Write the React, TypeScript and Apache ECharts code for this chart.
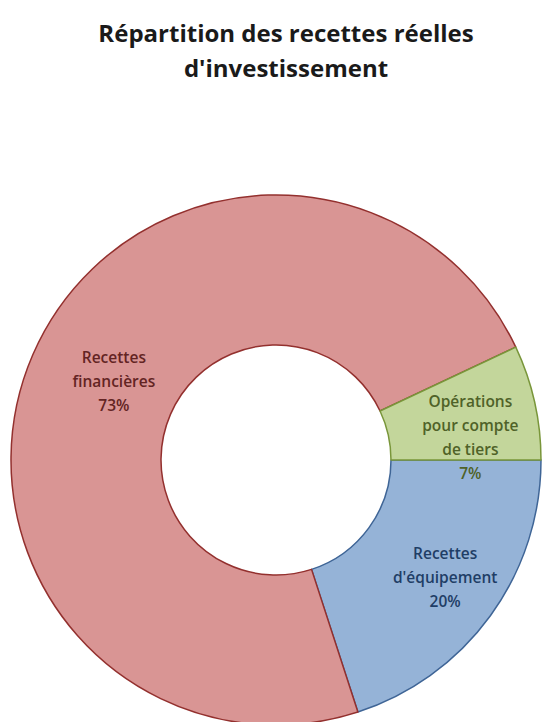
import React, { useEffect, useRef } from "react";
import * as echarts from "echarts";

const titleLines = ["Répartition des recettes réelles", "d'investissement"];
const categories = ["Recettes\nd'équipement", "Recettes\nfinancières", "Opérations\npour compte\nde tiers"];
const values = [20, 73, 7];
const fillColors = ["#95B3D7", "#D99594", "#C3D69B"];
const borderColors = ["#3F6596", "#93302E", "#79963A"];
const labelColors = ["#1F3E66", "#632423", "#4F6228"];
const labelShift = [
  [13, 4],
  [15, -2],
  [6, 19],
];

export default function App() {
  const ref = useRef<HTMLDivElement>(null);
  useEffect(() => {
    document.body.style.margin = "0";
    const chart = echarts.init(ref.current!, null, { renderer: "svg" });
    chart.setOption({
      animation: false,
      backgroundColor: "#ffffff",
      title: {
        text: titleLines.join("\n"),
        left: 281,
        top: 10,
        textAlign: "center",
        textStyle: {
          fontFamily: "Open Sans",
          fontWeight: "bold",
          fontSize: 24,
          lineHeight: 35,
          color: "#1a1a1a",
        },
      },
      series: [
        {
          type: "pie",
          center: [276, 460],
          radius: [115, 265],
          startAngle: 0,
          clockwise: true,
          avoidLabelOverlap: false,
          label: {
            show: true,
            position: "inside",
            fontFamily: "Open Sans",
            fontWeight: 600,
            fontSize: 15.5,
            lineHeight: 24,
            align: "center",
            formatter: (p: any) => `${p.name}\n${p.value}%`,
          },
          labelLine: { show: false },
          emphasis: { disabled: true },
          labelLayout: (p: any) => ({
            dx: labelShift[p.dataIndex][0],
            dy: labelShift[p.dataIndex][1],
          }),
          data: categories.map((c, i) => ({
            name: c,
            value: values[i],
            itemStyle: {
              color: fillColors[i],
              borderColor: borderColors[i],
              borderWidth: 1.5,
            },
            label: { color: labelColors[i] },
          })),
        },
      ],
    });
    return () => chart.dispose();
  }, []);
  return <div ref={ref} style={{ width: 547, height: 722 }} />;
}
